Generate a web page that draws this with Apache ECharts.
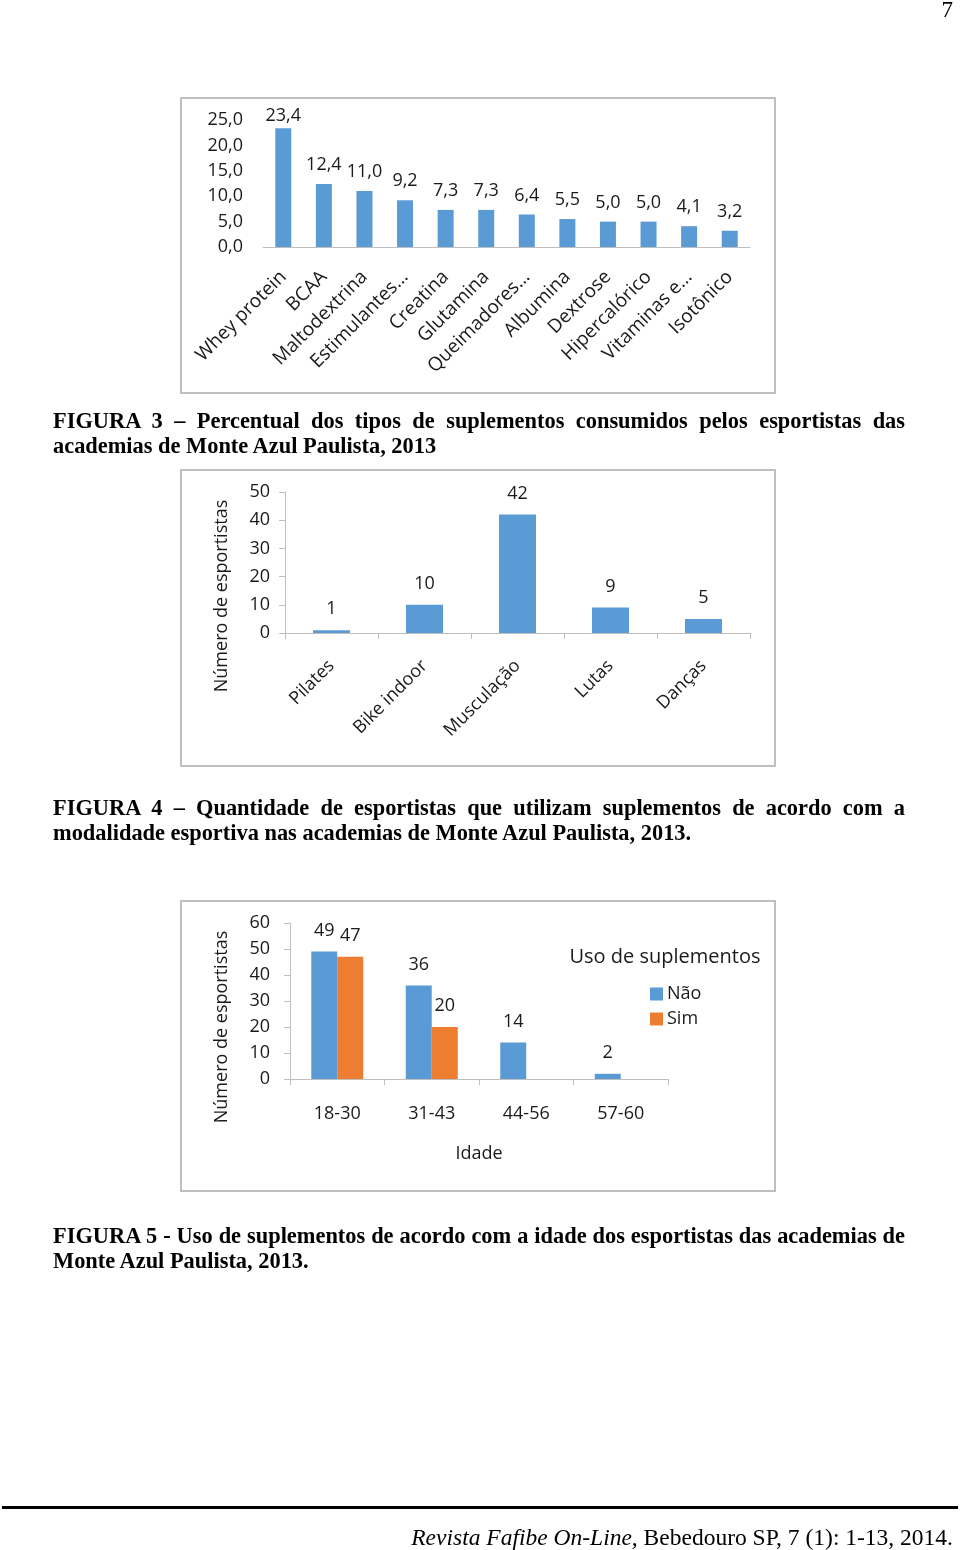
<!DOCTYPE html>
<html><head><meta charset="utf-8">
<script src="https://cdn.jsdelivr.net/npm/echarts@6/dist/echarts.min.js"></script>
<style>
html,body{margin:0;padding:0;background:#fff;}
#page{position:relative;width:960px;height:1550px;overflow:hidden;}
#chart{position:absolute;left:0;top:0;width:960px;height:1550px;}
.t{position:absolute;font-family:"Liberation Serif",serif;color:#000;white-space:nowrap;pointer-events:none;}
.cap{left:53px;width:852px;font-weight:bold;font-size:22.4px;line-height:25px;}
.j{text-align:justify;text-align-last:justify;}
</style></head>
<body><div id="page">
<div id="chart"></div>
<div class="t" style="right:7px;top:-4px;font-size:23px;line-height:28px;">7</div>
<div class="t cap j" style="top:408px;">FIGURA 3 – Percentual dos tipos de suplementos consumidos pelos esportistas das</div>
<div class="t cap" style="top:433px;">academias de Monte Azul Paulista, 2013</div>
<div class="t cap j" style="top:795px;">FIGURA 4 – Quantidade de esportistas que utilizam suplementos de acordo com a</div>
<div class="t cap" style="top:820px;">modalidade esportiva nas academias de Monte Azul Paulista, 2013.</div>
<div class="t cap j" style="top:1223px;">FIGURA 5 - Uso de suplementos de acordo com a idade dos esportistas das academias de</div>
<div class="t cap" style="top:1248px;">Monte Azul Paulista, 2013.</div>
<div style="position:absolute;left:2px;top:1506px;width:956px;height:3px;background:#000;"></div>
<div class="t" style="right:7px;top:1522px;font-size:23.5px;line-height:30px;"><i>Revista Fafibe On-Line,</i> Bebedouro SP, 7 (1): 1-13, 2014.</div>
</div>
<script>
// ---- data ----
const cat1 = ['Whey protein','BCAA','Maltodextrina','Estimulantes…','Creatina','Glutamina','Queimadores…','Albumina','Dextrose','Hipercalórico','Vitaminas e…','Isotônico'];
const val1 = [23.4,12.4,11.0,9.2,7.3,7.3,6.4,5.5,5.0,5.0,4.1,3.2];
const cat2 = ['Pilates','Bike indoor','Musculação','Lutas','Danças'];
const val2 = [1,10,42,9,5];
const cat3 = ['18-30','31-43','44-56','57-60'];
const nao3 = [49,36,14,2];
const sim3 = [47,20,0,0];
const seriesNames3 = ['Não','Sim'];
const legendTitle3 = 'Uso de suplementos';
const yName = 'Número de esportistas';
const xName3 = 'Idade';

const FONT = 'Open Sans';
const TXT = '#1a1a1a';
const BLUE = '#5B9BD5', ORANGE = '#ED7D31', GRID = '#bfbfbf';
const comma = v => Number(v).toFixed(1).replace('.', ',');
const lbl = (extra) => Object.assign({fontFamily: FONT, fontSize: 18, color: TXT}, extra || {});

// first label of figure 3 sits closer to its bar (it would otherwise touch the frame)
const data1 = val1.map((v, i) => i === 0 ? {value: v, label: {distance: 3}} : v);

const chart = echarts.init(document.getElementById('chart'));
chart.setOption({
  animation: false,
  textStyle: {fontFamily: FONT, color: TXT},
  graphic: [
    {type:'rect', shape:{x:181,y:98,width:594,height:295}, style:{fill:'none',stroke:GRID,lineWidth:2}},
    {type:'rect', shape:{x:181,y:470,width:594,height:296}, style:{fill:'none',stroke:GRID,lineWidth:2}},
    {type:'rect', shape:{x:181,y:901,width:594,height:290}, style:{fill:'none',stroke:GRID,lineWidth:2}},
    {type:'text', x:222, y:596, rotation:Math.PI/2, style:{text:yName, font:'18px "Open Sans"', fill:TXT, align:'center', verticalAlign:'middle'}},
    {type:'text', x:222, y:1027, rotation:Math.PI/2, style:{text:yName, font:'18px "Open Sans"', fill:TXT, align:'center', verticalAlign:'middle'}},
    {type:'text', x:665, y:957, style:{text:legendTitle3, font:'20px "Open Sans"', fill:TXT, align:'center', verticalAlign:'middle'}}
  ],
  legend: {
    data: seriesNames3, orient:'vertical', left:645, top:980,
    itemWidth:13, itemHeight:13, itemGap:7, icon:'rect',
    textStyle: lbl({fontSize:18, padding:[0,0,0,-1]})
  },
  grid: [
    {left:263, top:120, width:487, height:127},
    {left:285, top:492, width:465, height:141},
    {left:290, top:923, width:378, height:156}
  ],
  xAxis: [
    {type:'category', gridIndex:0, data:cat1, axisLine:{lineStyle:{color:GRID}}, axisTick:{show:false},
     axisLabel: lbl({rotate:45, interval:0, margin:27, fontSize:19})},
    {type:'category', gridIndex:1, data:cat2, axisLine:{lineStyle:{color:GRID}}, axisTick:{show:true, length:6, lineStyle:{color:GRID}},
     axisLabel: lbl({rotate:45, interval:0, margin:30})},
    {type:'category', gridIndex:2, data:cat3, axisLine:{lineStyle:{color:GRID}}, axisTick:{show:true, length:6, lineStyle:{color:GRID}},
     axisLabel: lbl({interval:0, margin:26}),
     name:xName3, nameLocation:'middle', nameGap:66, nameTextStyle: lbl()}
  ],
  yAxis: [
    {type:'value', gridIndex:0, min:0, max:25, interval:5, axisLine:{show:false}, axisTick:{show:false}, splitLine:{show:false},
     axisLabel: lbl({formatter: comma, margin:20})},
    {type:'value', gridIndex:1, min:0, max:50, interval:10, axisLine:{show:true, lineStyle:{color:GRID}}, axisTick:{show:true, length:6, lineStyle:{color:GRID}}, splitLine:{show:false},
     axisLabel: lbl({margin:15})},
    {type:'value', gridIndex:2, min:0, max:60, interval:10, axisLine:{show:true, lineStyle:{color:GRID}}, axisTick:{show:true, length:6, lineStyle:{color:GRID}}, splitLine:{show:false},
     axisLabel: lbl({margin:20})}
  ],
  series: [
    {type:'bar', xAxisIndex:0, yAxisIndex:0, data:data1, barWidth:16, itemStyle:{color:BLUE},
     label: lbl({show:true, position:'top', distance:10, formatter: p => comma(p.value)})},
    {type:'bar', xAxisIndex:1, yAxisIndex:1, data:val2, barWidth:37, itemStyle:{color:BLUE},
     label: lbl({show:true, position:'top', distance:12})},
    {type:'bar', name:seriesNames3[0], xAxisIndex:2, yAxisIndex:2, data:nao3, barWidth:26, barGap:'0%', itemStyle:{color:BLUE},
     label: lbl({show:true, position:'top', distance:12, formatter: p => p.value ? String(p.value) : ''})},
    {type:'bar', name:seriesNames3[1], xAxisIndex:2, yAxisIndex:2, data:sim3, barWidth:26, barGap:'0%', itemStyle:{color:ORANGE},
     label: lbl({show:true, position:'top', distance:12, formatter: p => p.value ? String(p.value) : ''})}
  ]
});
</script>
</body></html>
